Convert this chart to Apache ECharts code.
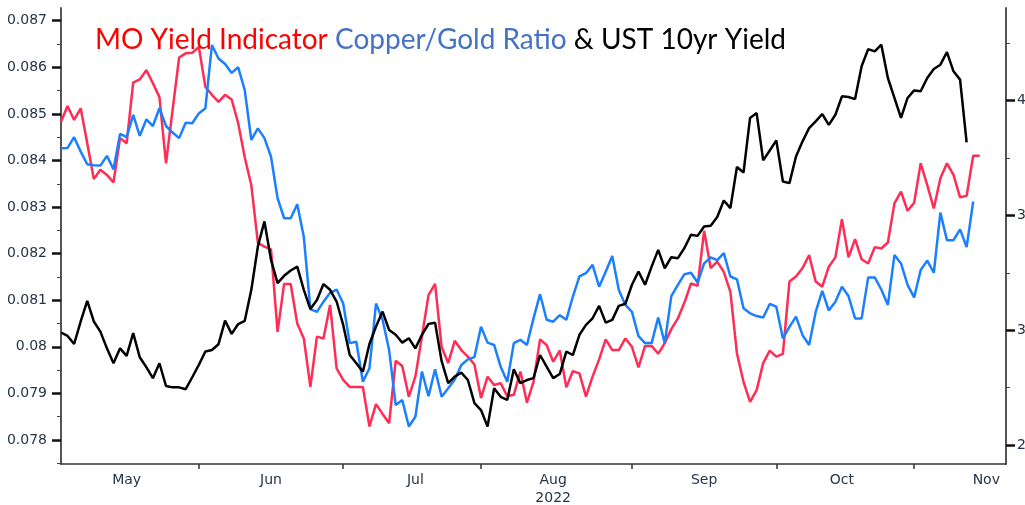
<!DOCTYPE html>
<html>
<head>
<meta charset="utf-8">
<script src="https://cdn.jsdelivr.net/npm/echarts@6/dist/echarts.min.js"></script>
<style>
  html, body { margin: 0; padding: 0; background: #fff; }
  #chart { width: 1025px; height: 505px; }
</style>
</head>
<body>
<div id="chart"></div>
<script>
// business-day axis, May 3 to Nov 21 2022
const startDate = '2022-05-03';
const endDate = '2022-11-21';
const monthLabelDates = ['2022-05-17', '2022-06-16', '2022-07-18', '2022-08-16', '2022-09-16', '2022-10-17', '2022-11-16'];
const monthLabels = ['May', 'Jun', 'Jul', 'Aug', 'Sep', 'Oct', 'Nov'];
const yearLabel = '2022';

const leftTicks = [0.078, 0.079, 0.08, 0.081, 0.082, 0.083, 0.084, 0.085, 0.086, 0.087];
const leftMinorTicks = [0.0775, 0.0785, 0.0795, 0.0805, 0.0815, 0.0825, 0.0835, 0.0845, 0.0855, 0.0865];
const rightTicks = [2.5, 3, 3.5, 4];
const rightMinorTicks = [2.75, 3.25, 3.75, 4.25];

// MO Yield Indicator (left axis)
const moYield = [
  0.08483, 0.08517, 0.08487, 0.08512, 0.08437, 0.08360, 0.08380, 0.08369, 0.08353, 0.08448,
  0.08437, 0.08567, 0.08574, 0.08594, 0.08566, 0.08536, 0.08394, 0.08508, 0.08621, 0.08630,
  0.08631, 0.08644, 0.08558, 0.08541, 0.08526, 0.08541, 0.08531, 0.08480, 0.08407, 0.08347,
  0.08223, 0.08215, 0.08209, 0.08032, 0.08135, 0.08135, 0.08050, 0.08018, 0.07914, 0.08022,
  0.08018, 0.08090, 0.07954, 0.07929, 0.07914, 0.07914, 0.07914, 0.07829, 0.07877, 0.07856,
  0.07836, 0.07970, 0.07959, 0.07893, 0.07936, 0.08022, 0.08111, 0.08135, 0.08000, 0.07965,
  0.08013, 0.07993, 0.07979, 0.07962, 0.07890, 0.07936, 0.07918, 0.07922, 0.07894, 0.07897,
  0.07947, 0.07880, 0.07925, 0.08016, 0.08004, 0.07968, 0.07992, 0.07913, 0.07948, 0.07943,
  0.07893, 0.07936, 0.07973, 0.08016, 0.07993, 0.07993, 0.08018, 0.08000, 0.07956, 0.08002,
  0.08002, 0.07985, 0.08008, 0.08038, 0.08061, 0.08095, 0.08136, 0.08131, 0.08249, 0.08169,
  0.08183, 0.08161, 0.08118, 0.07986, 0.07925, 0.07882, 0.07907, 0.07965, 0.07992, 0.07979,
  0.07985, 0.08140, 0.08151, 0.08169, 0.08197, 0.08140, 0.08129, 0.08172, 0.08192, 0.08274,
  0.08192, 0.08231, 0.08188, 0.08179, 0.08214, 0.08211, 0.08224, 0.08308, 0.08333, 0.08292,
  0.08309, 0.08394, 0.08347, 0.08297, 0.08362, 0.08394, 0.08369, 0.08321, 0.08324, 0.08410,
  0.08410
];

// Copper/Gold ratio (left axis)
const copperGold = [
  0.08426, 0.08427, 0.08450, 0.08419, 0.08392, 0.08390, 0.08389, 0.08410, 0.08381, 0.08457,
  0.08450, 0.08498, 0.08453, 0.08488, 0.08474, 0.08512, 0.08474, 0.08460, 0.08448, 0.08481,
  0.08480, 0.08501, 0.08512, 0.08648, 0.08619, 0.08607, 0.08588, 0.08600, 0.08551, 0.08444,
  0.08469, 0.08448, 0.08408, 0.08319, 0.08276, 0.08276, 0.08306, 0.08236, 0.08081, 0.08075,
  0.08097, 0.08116, 0.08123, 0.08093, 0.08008, 0.08011, 0.07925, 0.07954, 0.08093, 0.08058,
  0.07993, 0.07875, 0.07886, 0.07829, 0.07850, 0.07947, 0.07894, 0.07952, 0.07893, 0.07911,
  0.07930, 0.07961, 0.07973, 0.07978, 0.08043, 0.08009, 0.08004, 0.07957, 0.07925, 0.08008,
  0.08015, 0.08004, 0.08061, 0.08113, 0.08058, 0.08054, 0.08068, 0.08058, 0.08108, 0.08151,
  0.08158, 0.08176, 0.08129, 0.08161, 0.08195, 0.08122, 0.08090, 0.08075, 0.08023, 0.08008,
  0.08008, 0.08063, 0.08008, 0.08109, 0.08133, 0.08156, 0.08159, 0.08138, 0.08179, 0.08192,
  0.08186, 0.08201, 0.08151, 0.08145, 0.08083, 0.08072, 0.08066, 0.08063, 0.08092, 0.08086,
  0.08018, 0.08043, 0.08065, 0.08025, 0.08004, 0.08075, 0.08120, 0.08078, 0.08097, 0.08129,
  0.08109, 0.08061, 0.08061, 0.08149, 0.08149, 0.08123, 0.08090, 0.08197, 0.08179, 0.08133,
  0.08106, 0.08165, 0.08185, 0.08159, 0.08288, 0.08229, 0.08229, 0.08252, 0.08214, 0.08312
];

// UST 10yr yield, % (right axis)
const ust10y = [
  2.990, 2.975, 2.940, 3.038, 3.128, 3.038, 2.994, 2.921, 2.856, 2.921,
  2.888, 2.987, 2.882, 2.839, 2.791, 2.856, 2.757, 2.751, 2.751, 2.743,
  2.795, 2.849, 2.907, 2.914, 2.939, 3.042, 2.984, 3.027, 3.041, 3.176,
  3.365, 3.474, 3.307, 3.205, 3.237, 3.260, 3.277, 3.176, 3.092, 3.132,
  3.201, 3.176, 3.125, 3.023, 2.892, 2.856, 2.819, 2.940, 3.016, 3.081,
  3.001, 2.980, 2.946, 2.965, 2.921, 2.980, 3.027, 3.033, 2.865, 2.769,
  2.798, 2.815, 2.783, 2.682, 2.652, 2.580, 2.747, 2.710, 2.696, 2.830,
  2.769, 2.783, 2.791, 2.892, 2.841, 2.791, 2.809, 2.907, 2.892, 2.980,
  3.023, 3.052, 3.106, 3.033, 3.045, 3.106, 3.115, 3.198, 3.256, 3.198,
  3.277, 3.350, 3.270, 3.318, 3.314, 3.358, 3.416, 3.411, 3.452, 3.455,
  3.493, 3.565, 3.532, 3.711, 3.687, 3.925, 3.946, 3.740, 3.783, 3.827,
  3.648, 3.641, 3.757, 3.823, 3.881, 3.910, 3.942, 3.895, 3.939, 4.019,
  4.016, 4.007, 4.150, 4.225, 4.215, 4.244, 4.099, 4.012, 3.925, 4.012,
  4.045, 4.041, 4.099, 4.138, 4.157, 4.212, 4.128, 4.092, 3.818
];

const days = [];
for (let d = new Date(startDate + 'T00:00:00Z'); d <= new Date(endDate + 'T00:00:00Z'); d.setUTCDate(d.getUTCDate() + 1)) {
  const w = d.getUTCDay();
  if (w !== 0 && w !== 6) days.push(d.toISOString().slice(0, 10));
}

const axisFont = { fontFamily: 'DejaVu Sans', fontSize: 14, color: '#263548' };
const titleFont = { fontFamily: 'Lato', fontSize: 28, fontWeight: 'normal' };

const chart = echarts.init(document.getElementById('chart'), null, { renderer: 'canvas' });
chart.setOption({
  animation: false,
  backgroundColor: '#fff',
  title: {
    left: 95,
    top: 26,
    padding: 0,
    text: '{r|MO Yield Indicator} {b|Copper/Gold Ratio} {k|& UST 10yr Yield}',
    textStyle: {
      ...titleFont,
      rich: {
        r: { ...titleFont, color: '#ff0000' },
        b: { ...titleFont, color: '#4472c4' },
        k: { ...titleFont, color: '#000000' }
      }
    }
  },
  grid: { left: 61, right: 19, top: 8, bottom: 41, containLabel: false, outerBoundsMode: 'none' },
  xAxis: {
    type: 'category',
    data: days,
    boundaryGap: false,
    axisLine: { lineStyle: { color: '#333', width: 1.5 } },
    axisTick: {
      show: true,
      length: 5,
      lineStyle: { color: '#333', width: 1.5 },
      interval: (i) => i > 0 && days[i].slice(5, 7) !== days[i - 1].slice(5, 7)
    },
    axisLabel: {
      ...axisFont,
      margin: 7,
      interval: (i, v) => monthLabelDates.includes(v),
      formatter: (v) => {
        const name = monthLabels[monthLabelDates.indexOf(v)];
        return name === 'Aug' ? name + '\n' + yearLabel : name;
      },
      lineHeight: 18
    },
    splitLine: { show: false }
  },
  yAxis: [
    {
      type: 'value',
      position: 'left',
      min: 0.077485,
      max: 0.087273,
      axisLine: { show: true, lineStyle: { color: '#555', width: 2 } },
      axisTick: { show: true, length: 9, customValues: leftTicks, lineStyle: { color: '#111', width: 2.5 } },
      axisLabel: { ...axisFont, margin: 14, customValues: leftTicks, formatter: (v) => String(+v.toFixed(3)) },
      splitLine: { show: false }
    },
    {
      type: 'value',
      position: 'right',
      min: 2.417,
      max: 4.404,
      axisLine: { show: true, lineStyle: { color: '#555', width: 2 } },
      axisTick: { show: true, length: 9, customValues: rightTicks, lineStyle: { color: '#111', width: 2.5 } },
      axisLabel: { ...axisFont, margin: 11, customValues: rightTicks, formatter: (v) => v.toFixed(1) },
      splitLine: { show: false }
    },
    {
      type: 'value',
      position: 'left',
      min: 0.077485,
      max: 0.087273,
      axisLine: { show: false },
      axisTick: { show: true, length: 4, customValues: leftMinorTicks, lineStyle: { color: '#444', width: 1 } },
      axisLabel: { show: false },
      splitLine: { show: false }
    },
    {
      type: 'value',
      position: 'right',
      min: 2.417,
      max: 4.404,
      axisLine: { show: false },
      axisTick: { show: true, length: 4, customValues: rightMinorTicks, lineStyle: { color: '#444', width: 1 } },
      axisLabel: { show: false },
      splitLine: { show: false }
    }
  ],
  series: [
    {
      name: 'MO Yield Indicator',
      type: 'line',
      yAxisIndex: 0,
      data: moYield,
      symbol: 'none',
      lineStyle: { color: '#ff2d55', width: 2.5 }
    },
    {
      name: 'Copper/Gold Ratio',
      type: 'line',
      yAxisIndex: 0,
      data: copperGold,
      symbol: 'none',
      lineStyle: { color: '#1a80ff', width: 2.5 }
    },
    {
      name: 'UST 10yr Yield',
      type: 'line',
      yAxisIndex: 1,
      data: ust10y,
      symbol: 'none',
      lineStyle: { color: '#000', width: 2.5 }
    }
  ]
});
</script>
</body>
</html>
